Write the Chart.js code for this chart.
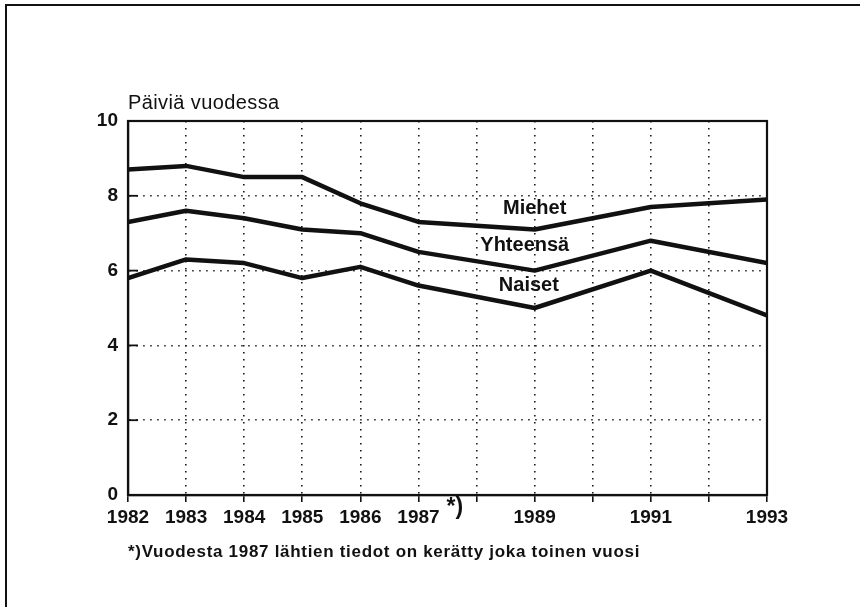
<!DOCTYPE html>
<html>
<head>
<meta charset="utf-8">
<script src="https://cdn.jsdelivr.net/npm/chart.js@4/dist/chart.umd.min.js"></script>
<style>
  html, body { margin: 0; padding: 0; background: #fff; }
  #wrap { position: absolute; left: 0; top: 0; width: 860px; height: 607px; }
</style>
</head>
<body>
<div id="wrap"><canvas id="c" width="860" height="607"></canvas></div>
<script>
// ---- data ----
const years = [1982, 1983, 1984, 1985, 1986, 1987, 1989, 1991, 1993];
const miehet = [8.7, 8.8, 8.5, 8.5, 7.8, 7.3, 7.1, 7.7, 7.9];
const yhteensa = [7.3, 7.6, 7.4, 7.1, 7.0, 6.5, 6.0, 6.8, 6.2];
const naiset = [5.8, 6.3, 6.2, 5.8, 6.1, 5.6, 5.0, 6.0, 4.8];
const xTickLabels = [1982, 1983, 1984, 1985, 1986, 1987, 1989, 1991, 1993];
const yTickValues = [0, 2, 4, 6, 8, 10];
const seriesNames = ['Miehet', 'Yhteensä', 'Naiset'];
// label anchor positions in data units (x year, y value)
const labelX = [1989.0, 1988.83, 1988.9];
const labelY = [7.65, 6.66, 5.59];
const yTitle = 'Päiviä vuodessa';
const footnoteMark = '*)';
const footnote = '*)Vuodesta 1987 lähtien tiedot on kerätty joka toinen vuosi';

const toPts = arr => years.map((y, i) => ({ x: y, y: arr[i] }));
const INK = '#111';
const FONT = '"Liberation Sans", Arial, Helvetica, sans-serif';
const DOTS = [1.5, 5.5];

const decor = {
  id: 'decor',
  beforeDraw(chart) {
    const ctx = chart.ctx;
    ctx.save();
    ctx.fillStyle = '#fff';
    ctx.fillRect(0, 0, chart.width, chart.height);
    ctx.fillStyle = INK;
    // outer page frame (top & left)
    ctx.fillRect(5, 4, 855, 2);
    ctx.fillRect(5, 4, 2, 603);
    ctx.restore();
  },
  afterDatasetsDraw(chart) {
    const ctx = chart.ctx;
    const a = chart.chartArea;
    const xs = chart.scales.x, ys = chart.scales.y;
    ctx.save();
    ctx.setLineDash([]);
    // plot box
    ctx.strokeStyle = INK;
    ctx.lineWidth = 2.2;
    ctx.strokeRect(a.left, a.top, a.right - a.left, a.bottom - a.top);
    // inward y ticks
    ctx.lineWidth = 1.8;
    yTickValues.forEach(v => {
      const py = ys.getPixelForValue(v);
      ctx.beginPath();
      ctx.moveTo(a.left, py);
      ctx.lineTo(a.left + 10, py);
      ctx.stroke();
    });
    // series labels
    ctx.fillStyle = INK;
    ctx.font = 'bold 20px ' + FONT;
    ctx.textAlign = 'center';
    ctx.textBaseline = 'middle';
    seriesNames.forEach((n, i) => {
      ctx.fillText(n, xs.getPixelForValue(labelX[i]), ys.getPixelForValue(labelY[i]));
    });
    // y title
    ctx.font = '20px ' + FONT;
    ctx.textAlign = 'left';
    ctx.letterSpacing = '0.4px';
    ctx.fillText(yTitle, a.left, 103);
    // footnote mark after 1987
    ctx.letterSpacing = '0px';
    ctx.font = 'bold 23px ' + FONT;
    ctx.fillText(footnoteMark, xs.getPixelForValue(1987) + 28, 508);
    // footnote
    ctx.font = 'bold 17px ' + FONT;
    ctx.letterSpacing = '0.7px';
    ctx.fillText(footnote, a.left, 552);
    ctx.letterSpacing = '0px';
    ctx.restore();
  }
};

new Chart(document.getElementById('c'), {
  type: 'line',
  data: {
    datasets: [
      { label: seriesNames[0], data: toPts(miehet) },
      { label: seriesNames[1], data: toPts(yhteensa) },
      { label: seriesNames[2], data: toPts(naiset) }
    ].map(d => Object.assign(d, {
      borderColor: INK, borderWidth: 4.5, pointRadius: 0, tension: 0,
      fill: false, borderJoinStyle: 'round', borderCapStyle: 'butt'
    }))
  },
  options: {
    responsive: false,
    animation: false,
    layout: { padding: { left: 0, right: 93, top: 121, bottom: 0 } },
    plugins: { legend: { display: false }, tooltip: { enabled: false }, title: { display: false } },
    scales: {
      x: {
        type: 'linear', min: 1982, max: 1993,
        afterFit(s) { s.height = 112; },
        ticks: {
          stepSize: 1, autoSkip: false, maxRotation: 0, padding: 4,
          color: INK, font: { family: FONT, size: 19, weight: 'bold' },
          callback: v => xTickLabels.includes(v) ? String(v) : ''
        },
        grid: {
          color: '#1a1a1a', lineWidth: 1.6,
          drawTicks: true, tickLength: 7, tickColor: INK, tickWidth: 1.6, tickBorderDash: []
        },
        border: { display: true, color: INK, width: 2.2, dash: DOTS }
      },
      y: {
        min: 0, max: 10,
        afterFit(s) { s.width = 128; },
        ticks: {
          stepSize: 2, padding: 10, color: INK,
          font: { family: FONT, size: 19, weight: 'bold' }
        },
        grid: { color: '#1a1a1a', lineWidth: 1.6, drawTicks: false },
        border: { display: true, color: INK, width: 2.2, dash: DOTS }
      }
    }
  },
  plugins: [decor]
});
</script>
</body>
</html>
